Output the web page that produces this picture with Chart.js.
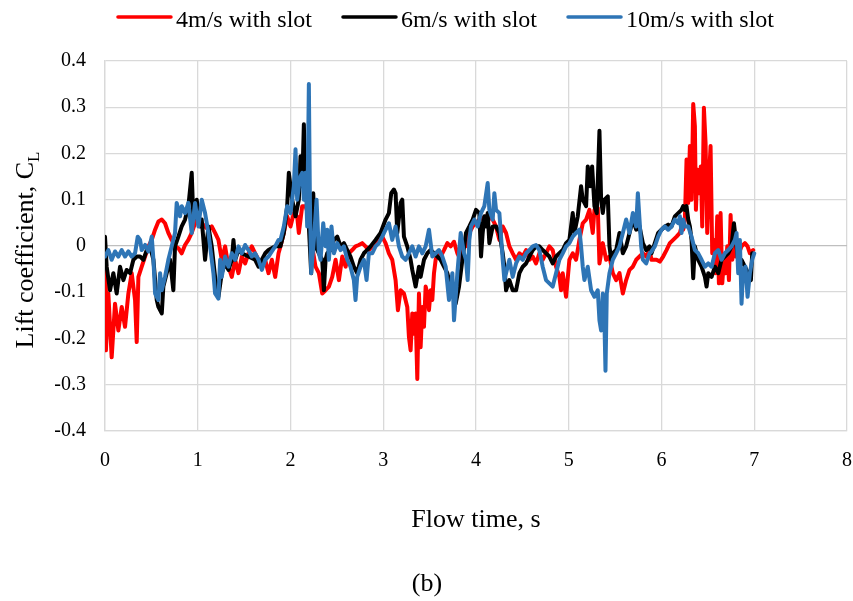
<!DOCTYPE html>
<html>
<head>
<meta charset="utf-8">
<script src="https://cdn.jsdelivr.net/npm/chart.js@4"></script>
<style>
  body { margin: 0; background: #fff; }
</style>
</head>
<body>
<canvas id="liftChart" width="853" height="601"></canvas>
<script>
const seriesLabels = ['4m/s with slot', '6m/s with slot', '10m/s with slot'];
const seriesColors = ['#ff0000', '#000000', '#2e75b6'];

const xTicks = [0, 1, 2, 3, 4, 5, 6, 7, 8];
const yTicks = [-0.4, -0.3, -0.2, -0.1, 0, 0.1, 0.2, 0.3, 0.4];

// 4 m/s
const redTime = [0, 0.010, 0.036, 0.072, 0.108, 0.144, 0.180, 0.216, 0.252, 0.288, 0.324, 0.342, 0.360, 0.396, 0.432, 0.468, 0.504, 0.540, 0.576, 0.612, 0.647, 0.683, 0.719, 0.755, 0.791, 0.827, 0.863, 0.899, 0.935, 0.971, 1.007, 1.043, 1.079, 1.115, 1.151, 1.187, 1.223, 1.259, 1.295, 1.331, 1.367, 1.403, 1.439, 1.475, 1.511, 1.547, 1.583, 1.619, 1.655, 1.691, 1.727, 1.763, 1.799, 1.835, 1.871,
  1.892, 1.928, 1.964, 2.000, 2.036, 2.072, 2.090, 2.126, 2.162, 2.198, 2.234, 2.270, 2.306, 2.342, 2.378, 2.414, 2.450, 2.486, 2.522, 2.558, 2.594, 2.629, 2.665, 2.701, 2.737, 2.773, 2.809, 2.845, 2.881, 2.917, 2.953, 2.989, 3.025, 3.061, 3.097, 3.133, 3.158, 3.187, 3.223, 3.259, 3.277, 3.295, 3.313, 3.331, 3.349, 3.367, 3.385, 3.403, 3.421, 3.439, 3.457, 3.475, 3.493, 3.511, 3.529, 3.547, 3.565, 3.583, 3.619, 3.655, 3.691, 3.727, 3.763, 3.799, 3.835, 3.871,
  3.892, 3.928, 3.964, 4.036, 4.108, 4.180, 4.216, 4.252, 4.288, 4.324, 4.360, 4.396, 4.432, 4.468, 4.504, 4.540, 4.576, 4.612, 4.647, 4.683, 4.719, 4.755, 4.791, 4.827, 4.863, 4.899, 4.917, 4.935, 4.971, 5.007, 5.043, 5.079, 5.115, 5.151, 5.187, 5.223, 5.259, 5.277, 5.313, 5.331, 5.367, 5.403, 5.439, 5.475, 5.511, 5.547, 5.583, 5.619, 5.655, 5.691, 5.727, 5.763, 5.799, 5.835, 5.871,
  5.892, 5.946, 5.982, 6.018, 6.054, 6.090, 6.126, 6.162, 6.198, 6.216, 6.234, 6.252, 6.270, 6.288, 6.306, 6.324, 6.342, 6.360, 6.371, 6.388, 6.406, 6.424, 6.439, 6.457, 6.475, 6.493, 6.511, 6.529, 6.547, 6.565, 6.583, 6.601, 6.619, 6.637, 6.655, 6.673, 6.691, 6.709, 6.727, 6.745, 6.763, 6.781, 6.799, 6.835, 6.863, 6.899, 6.928, 6.953, 6.989];
const redCL = [-0.030, -0.226, -0.103, -0.241, -0.125, -0.183, -0.132, -0.175, -0.103, -0.059, -0.117, -0.208, -0.067, -0.045, -0.023, -0.001, 0.013, 0.035, 0.053, 0.057, 0.049, 0.028, 0.013, -0.001, -0.005, -0.016, 0.002, 0.013, 0.028, 0.049, 0.064, 0.049, 0.042, 0.035, 0.042, 0.028, 0.013, -0.030, -0.001, -0.045, -0.067, -0.030, -0.059, -0.023, -0.038, -0.016, -0.001, -0.016, -0.030, -0.045, -0.030, -0.059, -0.030, -0.067, -0.016,
  -0.001, 0.028, 0.064, 0.042, 0.071, 0.064, 0.028, 0.086, 0.086, 0.064, -0.001, -0.045, -0.059, -0.103, -0.096, -0.088, -0.067, -0.030, -0.074, -0.023, -0.045, -0.016, -0.009, -0.001, 0.002, 0.006, -0.001, -0.009, -0.001, 0.009, 0.013, 0.020, 0.006, -0.016, -0.030, -0.074, -0.139, -0.096, -0.103, -0.132, -0.197, -0.226, -0.146, -0.190, -0.146, -0.288, -0.103, -0.219, -0.132, -0.175, -0.088, -0.103, -0.139, -0.096, -0.117, -0.059, -0.030, -0.016, -0.023, -0.009, 0.006, -0.001, 0.009, -0.016, -0.030, -0.001,
  -0.001, 0.028, 0.042, 0.057, 0.064, 0.057, 0.042, 0.013, 0.042, 0.028, -0.001, -0.016, -0.030, -0.016, -0.023, -0.009, -0.030, -0.023, -0.038, -0.016, -0.030, -0.016, -0.001, -0.009, -0.045, -0.067, -0.096, -0.059, -0.110, -0.030, -0.016, -0.030, 0.013, 0.049, 0.057, 0.078, 0.028, 0.078, 0.082, -0.038, 0.006, -0.030, -0.023, -0.059, -0.074, -0.059, -0.103, -0.074, -0.052, -0.045, -0.030, -0.023, -0.016, -0.023, -0.009,
  -0.030, -0.030, -0.034, -0.023, -0.009, 0.006, 0.013, 0.020, 0.028, 0.042, 0.035, 0.057, 0.187, 0.093, 0.216, 0.100, 0.307, 0.259, 0.078, 0.165, 0.114, 0.172, 0.042, 0.299, 0.223, 0.028, 0.143, 0.216, -0.016, 0.013, -0.059, 0.064, -0.081, 0.071, -0.081, -0.030, -0.059, -0.001, -0.074, 0.067, -0.030, -0.001, -0.023, -0.016, -0.001, 0.006, -0.001, -0.016, -0.009];

// 6 m/s
const blackTime = [0.000, 0.018, 0.054, 0.090, 0.126, 0.162, 0.198, 0.234, 0.270, 0.306, 0.342, 0.378, 0.414, 0.450, 0.486, 0.522, 0.558, 0.576, 0.612, 0.629, 0.665, 0.701, 0.737, 0.755, 0.791, 0.827, 0.863, 0.899, 0.935, 0.953, 0.989, 1.025, 1.043, 1.079, 1.115, 1.151, 1.187, 1.223, 1.259, 1.295, 1.331, 1.367, 1.385, 1.403, 1.439, 1.475, 1.547, 1.619, 1.655, 1.691, 1.727, 1.763, 1.835,
  1.892, 1.928, 1.964, 1.982, 2.018, 2.054, 2.090, 2.108, 2.126, 2.144, 2.162, 2.180, 2.198, 2.223, 2.245, 2.270, 2.306, 2.342, 2.360, 2.378, 2.396, 2.432, 2.468, 2.504, 2.540, 2.576, 2.612, 2.647, 2.683, 2.719, 2.755, 2.791, 2.827, 2.863, 2.917, 2.971, 3.025, 3.061, 3.086, 3.115, 3.133, 3.151, 3.187, 3.205, 3.223, 3.259, 3.295, 3.313, 3.349, 3.385, 3.403, 3.439, 3.475, 3.511, 3.547, 3.583, 3.619, 3.655, 3.691, 3.727, 3.781, 3.817, 3.853,
  3.892, 3.928, 3.964, 4.000, 4.036, 4.054, 4.072, 4.090, 4.108, 4.126, 4.144, 4.180, 4.216, 4.252, 4.288, 4.306, 4.324, 4.360, 4.396, 4.432, 4.468, 4.504, 4.540, 4.576, 4.612, 4.647, 4.683, 4.719, 4.755, 4.791, 4.827, 4.863, 4.899, 4.935, 4.971, 5.007, 5.043, 5.061, 5.097, 5.133, 5.151, 5.187, 5.205, 5.230, 5.252, 5.277, 5.302, 5.331, 5.349, 5.367, 5.385, 5.421, 5.439, 5.457, 5.475, 5.511, 5.547, 5.583, 5.619, 5.655, 5.691, 5.727, 5.763, 5.799, 5.835, 5.871,
  5.892, 5.928, 5.964, 6.000, 6.036, 6.072, 6.108, 6.144, 6.180, 6.216, 6.234, 6.252, 6.270, 6.288, 6.306, 6.324, 6.342, 6.360, 6.396, 6.432, 6.468, 6.486, 6.504, 6.540, 6.576, 6.612, 6.647, 6.683, 6.719, 6.755, 6.781, 6.809, 6.835, 6.863, 6.899, 6.935, 6.964, 6.978];
const blackCL = [0.020, -0.045, -0.096, -0.059, -0.103, -0.045, -0.074, -0.052, -0.059, -0.030, -0.023, -0.023, -0.030, -0.009, -0.001, -0.030, -0.117, -0.132, -0.146, -0.088, -0.059, -0.030, -0.096, -0.001, 0.020, 0.042, 0.057, 0.086, 0.158, 0.057, 0.100, 0.042, 0.057, -0.030, 0.042, -0.001, -0.067, -0.110, -0.059, -0.038, -0.052, -0.030, 0.013, -0.030, -0.009, -0.016, -0.023, -0.030, -0.045, -0.030, -0.016, -0.009, -0.001,
  -0.001, 0.028, 0.086, 0.158, 0.100, 0.064, 0.100, 0.194, 0.129, 0.263, 0.100, 0.187, 0.042, -0.059, 0.114, -0.001, -0.016, -0.030, -0.096, -0.030, -0.016, -0.009, 0.013, 0.020, -0.001, 0.006, -0.009, -0.023, -0.045, -0.059, -0.030, -0.016, -0.009, -0.001, 0.013, 0.028, 0.057, 0.071, 0.114, 0.122, 0.114, 0.028, 0.093, 0.100, 0.020, -0.001, -0.030, -0.052, -0.088, -0.045, -0.067, -0.030, -0.016, -0.009, -0.016, -0.023, -0.030, -0.045, -0.059, -0.088, -0.125, -0.088, -0.030,
  0.028, 0.042, 0.057, 0.078, 0.071, -0.023, 0.028, 0.064, 0.042, 0.071, 0.006, 0.042, 0.042, 0.028, -0.016, -0.045, -0.096, -0.074, -0.096, -0.096, -0.059, -0.045, -0.038, -0.023, -0.009, -0.001, -0.001, -0.009, -0.016, -0.023, -0.038, -0.023, -0.016, -0.009, 0.006, 0.013, 0.071, 0.028, 0.064, 0.129, 0.100, 0.086, 0.172, 0.129, 0.172, 0.086, 0.071, 0.249, 0.100, 0.071, 0.100, 0.107, -0.001, -0.030, -0.016, -0.009, 0.028, -0.016, -0.001, 0.028, 0.057, 0.035, 0.042, 0.006, -0.009, -0.001,
  -0.016, 0.006, 0.028, 0.035, 0.042, 0.046, 0.042, 0.064, 0.071, 0.078, 0.086, 0.078, 0.086, 0.057, 0.042, 0.013, -0.070, -0.001, -0.030, -0.045, -0.067, -0.088, -0.059, -0.067, -0.045, -0.059, -0.030, -0.023, -0.016, -0.001, 0.049, -0.001, -0.045, -0.030, -0.045, -0.059, -0.074, -0.016];

// 10 m/s
const blueTime = [0.000, 0.036, 0.072, 0.108, 0.144, 0.180, 0.216, 0.252, 0.288, 0.324, 0.353, 0.378, 0.396, 0.432, 0.468, 0.504, 0.522, 0.540, 0.576, 0.594, 0.612, 0.647, 0.683, 0.719, 0.755, 0.773, 0.809, 0.827, 0.863, 0.899, 0.935, 0.971, 1.007, 1.043, 1.079, 1.115, 1.151, 1.169, 1.187, 1.223, 1.241, 1.259, 1.295, 1.331, 1.367, 1.403, 1.439, 1.475, 1.511, 1.547, 1.583, 1.619, 1.655, 1.691, 1.727, 1.763, 1.799, 1.835, 1.871,
  1.892, 1.928, 1.964, 2.000, 2.036, 2.054, 2.072, 2.090, 2.108, 2.126, 2.144, 2.162, 2.180, 2.198, 2.209, 2.223, 2.252, 2.281, 2.306, 2.324, 2.353, 2.378, 2.396, 2.414, 2.442, 2.468, 2.504, 2.540, 2.576, 2.612, 2.647, 2.683, 2.701, 2.719, 2.755, 2.791, 2.820, 2.845, 2.881, 2.917, 2.953, 2.989, 3.025, 3.061, 3.097, 3.133, 3.169, 3.205, 3.241, 3.277, 3.313, 3.349, 3.385, 3.421, 3.457, 3.493, 3.529, 3.565, 3.601, 3.637, 3.673, 3.709, 3.745, 3.763, 3.799, 3.835, 3.871,
  3.892, 3.910, 3.928, 3.946, 3.982, 4.018, 4.054, 4.090, 4.126, 4.144, 4.180, 4.198, 4.216, 4.252, 4.270, 4.288, 4.306, 4.324, 4.360, 4.396, 4.432, 4.468, 4.504, 4.540, 4.576, 4.612, 4.647, 4.683, 4.719, 4.755, 4.791, 4.827, 4.863, 4.899, 4.935, 4.971, 5.007, 5.043, 5.079, 5.115, 5.133, 5.151, 5.169, 5.205, 5.241, 5.277, 5.313, 5.331, 5.349, 5.367, 5.385, 5.396, 5.410, 5.439, 5.475, 5.511, 5.547, 5.583, 5.619, 5.655, 5.691, 5.727, 5.745, 5.763, 5.781, 5.799, 5.835, 5.871,
  5.892, 5.928, 5.964, 6.000, 6.036, 6.072, 6.108, 6.144, 6.180, 6.198, 6.216, 6.234, 6.252, 6.288, 6.324, 6.360, 6.396, 6.432, 6.468, 6.504, 6.540, 6.576, 6.612, 6.647, 6.683, 6.719, 6.755, 6.791, 6.809, 6.827, 6.845, 6.863, 6.881, 6.906, 6.928, 6.953, 6.978, 7.000];
const blueCL = [-0.023, -0.009, -0.030, -0.012, -0.023, -0.009, -0.023, -0.012, -0.023, -0.016, 0.020, 0.013, -0.009, 0.002, -0.012, 0.020, -0.030, -0.103, -0.117, -0.059, -0.096, -0.067, -0.030, -0.001, 0.028, 0.093, 0.064, 0.086, 0.071, 0.093, 0.028, 0.093, 0.042, 0.100, 0.071, 0.028, -0.030, -0.059, -0.103, -0.114, -0.030, -0.067, -0.023, -0.045, -0.016, -0.030, -0.001, -0.016, 0.002, -0.009, -0.023, -0.016, -0.030, -0.052, -0.030, -0.023, -0.012, -0.001, 0.013,
  0.013, 0.042, 0.086, 0.071, 0.129, 0.209, 0.100, 0.129, 0.151, 0.158, 0.100, 0.158, 0.042, 0.350, 0.100, -0.059, 0.013, 0.100, -0.016, -0.030, 0.049, -0.001, 0.035, -0.030, 0.042, -0.016, 0.006, -0.009, -0.001, -0.030, -0.045, -0.074, -0.117, -0.067, -0.045, -0.030, -0.074, -0.016, -0.016, -0.001, 0.006, 0.020, 0.035, 0.049, 0.013, 0.042, -0.001, -0.023, -0.030, -0.016, -0.001, -0.023, -0.001, -0.016, -0.001, 0.035, -0.023, -0.016, -0.009, -0.023, -0.045, -0.117, -0.059, -0.161, -0.059, 0.028, -0.016,
  -0.030, -0.074, 0.013, 0.042, 0.057, 0.042, 0.071, 0.086, 0.136, 0.078, 0.057, 0.114, 0.078, 0.071, 0.020, -0.030, -0.074, -0.059, -0.030, -0.067, -0.038, -0.023, -0.030, -0.016, -0.009, -0.001, 0.002, -0.009, -0.045, -0.074, -0.081, -0.088, -0.059, -0.030, -0.016, -0.001, 0.006, 0.020, 0.028, 0.035, -0.001, -0.045, -0.074, -0.045, -0.096, -0.110, -0.096, -0.161, -0.183, -0.103, -0.168, -0.270, -0.103, -0.059, -0.030, -0.016, -0.001, 0.028, 0.057, 0.028, 0.071, 0.042, 0.114, 0.057, -0.001, -0.030, -0.038, -0.016,
  -0.012, -0.001, 0.020, 0.035, 0.042, 0.035, 0.042, 0.057, 0.049, 0.064, 0.028, 0.057, 0.042, 0.042, 0.020, -0.009, -0.016, -0.030, -0.045, -0.038, -0.045, -0.016, -0.009, -0.030, -0.016, -0.009, -0.001, 0.013, 0.028, -0.059, 0.013, -0.125, -0.052, -0.045, -0.110, -0.059, -0.030, -0.016];

const serif = '"Times New Roman", "Liberation Serif", serif';

function toPoints(times, values) {
  return times.map((t, i) => ({ x: t, y: values[i] }));
}

// legend, y title with subscript and the (b) caption
const captions = {
  id: 'captions',
  afterDraw(chart) {
    const ctx = chart.ctx;
    ctx.save();
    ctx.fillStyle = '#000';

    // legend row
    ctx.font = '24px ' + serif;
    ctx.textBaseline = 'alphabetic';
    ctx.textAlign = 'left';
    const lineLen = 53, textGap = 5, itemGap = 31;
    const widths = seriesLabels.map(l => ctx.measureText(l).width);
    const total = widths.reduce((a, w) => a + w, 0) + 3 * (lineLen + textGap) + 2 * itemGap;
    let x = 446 - total / 2;
    seriesLabels.forEach((label, i) => {
      ctx.strokeStyle = seriesColors[i];
      ctx.lineWidth = 3.5;
      ctx.lineCap = 'round';
      ctx.beginPath();
      ctx.moveTo(x, 17);
      ctx.lineTo(x + lineLen, 17);
      ctx.stroke();
      ctx.fillText(label, x + lineLen + textGap, 26.5);
      x += lineLen + textGap + widths[i] + itemGap;
    });

    // y axis title
    const main = 'Lift coefficient, C';
    ctx.font = '26px ' + serif;
    const wMain = ctx.measureText(main).width;
    ctx.font = '17px ' + serif;
    const wSub = ctx.measureText('L').width;
    ctx.translate(33, 250);
    ctx.rotate(-Math.PI / 2);
    const start = -(wMain + wSub) / 2;
    ctx.font = '26px ' + serif;
    ctx.fillText(main, start, 0);
    ctx.font = '17px ' + serif;
    ctx.fillText('L', start + wMain, 6);
    ctx.setTransform(1, 0, 0, 1, 0, 0);

    // caption
    ctx.font = '26px ' + serif;
    ctx.textAlign = 'center';
    ctx.textBaseline = 'middle';
    ctx.fillText('(b)', 427, 584);
    ctx.restore();
  }
};

const lineStyle = { borderWidth: 4, pointRadius: 0, tension: 0, fill: false, borderJoinStyle: 'round', borderCapStyle: 'round' };

const ctx = document.getElementById('liftChart');
new Chart(ctx, {
  type: 'line',
  data: {
    datasets: [
      { label: seriesLabels[0], data: toPoints(redTime, redCL), borderColor: seriesColors[0], order: 3, ...lineStyle },
      { label: seriesLabels[1], data: toPoints(blackTime, blackCL), borderColor: seriesColors[1], order: 2, ...lineStyle },
      { label: seriesLabels[2], data: toPoints(blueTime, blueCL), borderColor: seriesColors[2], order: 1, ...lineStyle }
    ]
  },
  options: {
    responsive: false,
    animation: false,
    devicePixelRatio: 1,
    layout: { padding: { top: 61, right: 6, bottom: 65, left: 0 } },
    plugins: {
      legend: { display: false },
      tooltip: { enabled: false }
    },
    scales: {
      x: {
        type: 'linear',
        min: xTicks[0],
        max: xTicks[xTicks.length - 1],
        ticks: { stepSize: 1, padding: 0, color: '#000', font: { family: serif, size: 20 } },
        grid: { color: '#d9d9d9', lineWidth: 1.3, drawTicks: true, tickLength: 18, tickColor: 'rgba(0,0,0,0)' },
        border: { color: '#d9d9d9', width: 1.3 },
        title: {
          display: true,
          text: 'Flow time, s',
          color: '#000',
          font: { family: serif, size: 26 },
          padding: { top: 32, bottom: 0 }
        }
      },
      y: {
        min: yTicks[0],
        max: yTicks[yTicks.length - 1],
        ticks: {
          stepSize: 0.1,
          padding: 19,
          color: '#000',
          font: { family: serif, size: 20 },
          callback: v => Math.abs(v) < 1e-9 ? '0' : v.toFixed(1)
        },
        grid: {
          color: c => (c.tick && Math.abs(c.tick.value) < 1e-9) ? '#bfbfbf' : '#d9d9d9',
          lineWidth: 1.3,
          drawTicks: false
        },
        border: { color: '#d9d9d9', width: 1.3 },
        afterFit(scale) { scale.width = 105; }
      }
    }
  },
  plugins: [captions]
});
</script>
</body>
</html>
